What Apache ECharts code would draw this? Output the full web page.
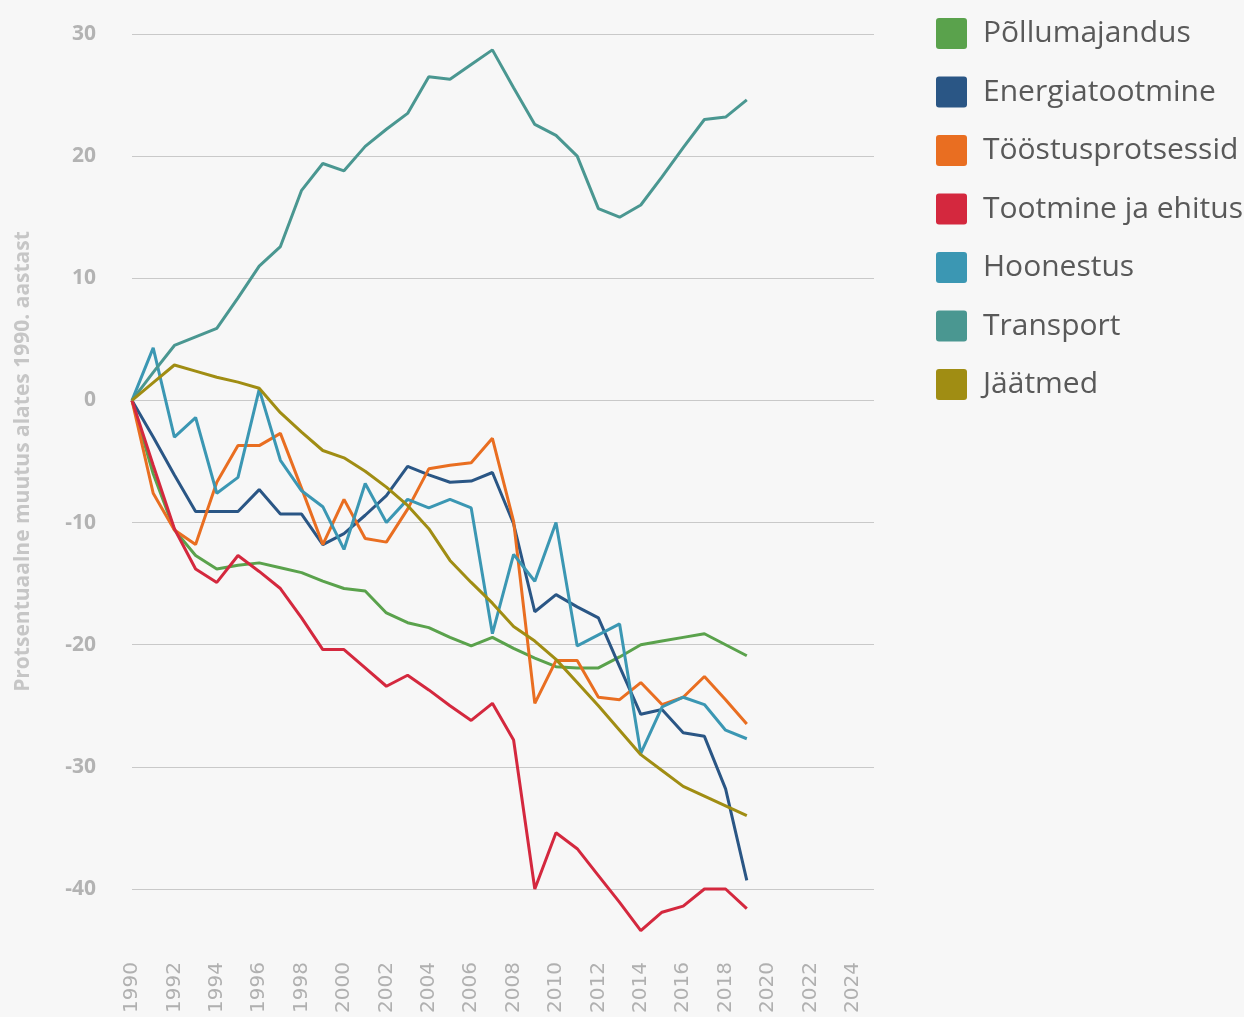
<!DOCTYPE html>
<html>
<head>
<meta charset="utf-8">
<script src="https://cdn.jsdelivr.net/npm/echarts@6/dist/echarts.min.js"></script>
<style>
  html, body { margin: 0; padding: 0; background: #f7f7f7; }
  #chart { width: 1244px; height: 1017px; }
</style>
</head>
<body>
<div id="chart"></div>
<script>
// aastad 1990..2019
var years = [];
for (var y = 1990; y <= 2019; y++) years.push(y);

var names = ["Põllumajandus", "Energiatootmine", "Tööstusprotsessid", "Tootmine ja ehitus", "Hoonestus", "Transport", "Jäätmed"];
var colors = ["#5aa24c", "#2a5685", "#e96e21", "#d4283e", "#3b97b3", "#4a9791", "#a08d13"];

var pollumajandus = [0, -6.0, -10.6, -12.7, -13.8, -13.5, -13.3, -13.7, -14.1, -14.8, -15.4, -15.6, -17.4, -18.2, -18.6, -19.4, -20.1, -19.4, -20.3, -21.1, -21.8, -21.9, -21.9, -21.0, -20.0, -19.7, -19.4, -19.1, -20.0, -20.9];
var energia = [0, -3.0, -6.1, -9.1, -9.1, -9.1, -7.3, -9.3, -9.3, -11.8, -10.9, -9.4, -7.8, -5.4, -6.1, -6.7, -6.6, -5.9, -10.1, -17.3, -15.9, -16.9, -17.8, -21.8, -25.7, -25.3, -27.2, -27.5, -31.8, -39.3];
var toostus = [0, -7.6, -10.6, -11.8, -6.7, -3.7, -3.7, -2.7, -7.2, -11.8, -8.1, -11.3, -11.6, -8.9, -5.6, -5.3, -5.1, -3.1, -9.9, -24.8, -21.3, -21.3, -24.3, -24.5, -23.1, -24.9, -24.3, -22.6, -24.5, -26.5];
var tootmine = [0, -5.3, -10.5, -13.8, -14.9, -12.7, -14.0, -15.4, -17.8, -20.4, -20.4, -21.9, -23.4, -22.5, -23.7, -25.0, -26.2, -24.8, -27.8, -40.0, -35.4, -36.7, -38.9, -41.1, -43.4, -41.9, -41.4, -40.0, -40.0, -41.6];
var hoonestus = [0, 4.3, -3.0, -1.4, -7.6, -6.3, 0.9, -4.9, -7.4, -8.7, -12.2, -6.8, -10.0, -8.1, -8.8, -8.1, -8.8, -19.1, -12.6, -14.8, -10.0, -20.1, -19.2, -18.3, -28.9, -25.1, -24.3, -24.9, -27.0, -27.7];
var transport = [0, 2.3, 4.5, 5.2, 5.9, 8.4, 11.0, 12.6, 17.2, 19.4, 18.8, 20.8, 22.2, 23.5, 26.5, 26.3, 27.5, 28.7, 25.6, 22.6, 21.7, 20.0, 15.7, 15.0, 16.0, 18.3, 20.7, 23.0, 23.2, 24.6];
var jaatmed = [0, 1.45, 2.9, 2.4, 1.9, 1.5, 1.0, -1.0, -2.6, -4.1, -4.7, -5.8, -7.1, -8.6, -10.5, -13.1, -14.9, -16.6, -18.5, -19.7, -21.2, -23.1, -25.0, -27.0, -29.0, -30.3, -31.6, -32.4, -33.2, -34.0];

var seriesData = [pollumajandus, energia, toostus, tootmine, hoonestus, transport, jaatmed];

var myChart = echarts.init(document.getElementById("chart"));

/*joonte seeriad*/
var series = names.map(function (name, i) {
  return {
    name: name,
    type: "line",
    symbol: "none",
    clip: false,
    data: years.map(function (yr, k) { return [yr, seriesData[i][k]]; }),
    lineStyle: { color: colors[i], width: 3 },
    itemStyle: { color: colors[i] },
  };
});

var option = {
  backgroundColor: "#f7f7f7",
  animation: false,
  color: colors,
  grid: {
    left: 132,
    top: 34,
    width: 742,
    height: 855,
  },
  legend: {
    orient: "vertical",
    left: 936,
    top: 18,
    padding: 0,
    // väikese ümardusega ruut
    icon: "path://M3,0 H28 Q31,0 31,3 V28 Q31,31 28,31 H3 Q0,31 0,28 V3 Q0,0 3,0 Z",
    itemWidth: 31,
    itemHeight: 31,
    itemGap: 27.5,
    data: names,
    textStyle: {
      color: "#595959",
      fontFamily: "Open Sans",
      fontSize: 30,
      lineHeight: 31,
      padding: [0, 0, 0, 11],
    },
  },
  xAxis: {
    type: "value",
    min: 1990,
    max: 2025,
    interval: 2,
    offset: 61,
    axisLine: { show: false },
    axisTick: { show: false },
    splitLine: { show: false },
    axisLabel: {
      rotate: 90,
      margin: 12,
      color: "#b0b0b0",
      fontFamily: "DejaVu Sans",
      fontSize: 20,
      formatter: function (v) {
        return v % 2 === 0 ? String(v) : "";
      },
    },
  },
  yAxis: {
    type: "value",
    min: -40,
    max: 30,
    interval: 10,
    name: "Protsentuaalne muutus alates 1990. aastast",
    nameLocation: "middle",
    nameRotate: 90,
    nameGap: 98,
    nameTextStyle: {
      color: "#c6c6c6",
      fontFamily: "Open Sans",
      fontWeight: "bold",
      fontSize: 21,
    },
    axisLine: { show: false },
    axisTick: { show: false },
    axisLabel: {
      margin: 36,
      color: "#b3b3b3",
      fontFamily: "Open Sans",
      fontWeight: "bold",
      fontSize: 21,
    },
    splitLine: {
      show: true,
      lineStyle: { color: "#c9c9c9", width: 1 },
    },
  },
  series: series,
};

myChart.setOption(option);
</script>
</body>
</html>
